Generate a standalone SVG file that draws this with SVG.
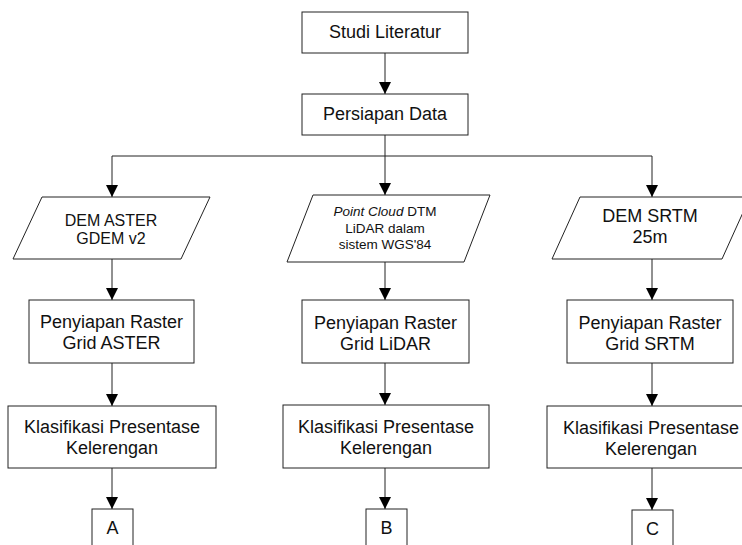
<svg xmlns="http://www.w3.org/2000/svg" width="742" height="545" viewBox="0 0 742 545">
<style>
.box{fill:#fff;stroke:#222;stroke-width:1}
.t{font-family:"Liberation Sans",Arial,Helvetica,sans-serif;font-size:18px;fill:#111;text-anchor:middle}
.s{font-size:16px}
.xs{font-size:13.5px}
.c{fill:none;stroke:#222;stroke-width:1}
</style>
<defs>
<marker id="ah" markerUnits="userSpaceOnUse" markerWidth="12" markerHeight="12" refX="12" refY="6" orient="auto">
<path d="M0,0 L12,6 L0,12 z" fill="#000"/>
</marker>
</defs>
<rect width="742" height="545" fill="#fff"/>
<g id="connectors">
<path class="c" d="M385,53 V94" marker-end="url(#ah)"/>
<path class="c" d="M385,135 V195" marker-end="url(#ah)"/>
<path class="c" d="M385,156 H112 V197" marker-end="url(#ah)"/>
<path class="c" d="M385,156 H652 V197" marker-end="url(#ah)"/>
<path class="c" d="M112,259 V300" marker-end="url(#ah)"/>
<path class="c" d="M112,363 V406" marker-end="url(#ah)"/>
<path class="c" d="M112,468 V509" marker-end="url(#ah)"/>
<path class="c" d="M385,262 V300" marker-end="url(#ah)"/>
<path class="c" d="M385,363 V405" marker-end="url(#ah)"/>
<path class="c" d="M385,468 V509" marker-end="url(#ah)"/>
<path class="c" d="M652,259 V300" marker-end="url(#ah)"/>
<path class="c" d="M652,363 V406" marker-end="url(#ah)"/>
<path class="c" d="M652,468 V510" marker-end="url(#ah)"/>
</g>
<g id="studi">
<rect class="box" x="302" y="12" width="166" height="41"/>
<text class="t" x="385" y="38">Studi Literatur</text>
</g>
<g id="persiapan">
<rect class="box" x="302" y="94" width="166" height="41"/>
<text class="t" x="385" y="120">Persiapan Data</text>
</g>
<g id="dem-aster">
<polygon class="box" points="42,197 210,197 181,259 13,259"/>
<text class="t s" x="111" y="226">DEM ASTER</text>
<text class="t s" x="111" y="244">GDEM v2</text>
</g>
<g id="point-cloud">
<polygon class="box" points="313,195 490,195 464,262 287,262"/>
<text class="t xs" x="385" y="216"><tspan font-style="italic">Point Cloud</tspan> DTM</text>
<text class="t xs" x="385" y="233">LiDAR dalam</text>
<text class="t xs" x="385" y="249">sistem WGS'84</text>
</g>
<g id="dem-srtm">
<polygon class="box" points="580,197 750,197 722,259 552,259"/>
<text class="t" x="650" y="222">DEM SRTM</text>
<text class="t" x="650" y="243">25m</text>
</g>
<g id="raster-aster">
<rect class="box" x="29" y="300" width="165" height="63"/>
<text class="t" x="111.5" y="328">Penyiapan Raster</text>
<text class="t" x="111.5" y="349">Grid ASTER</text>
</g>
<g id="raster-lidar">
<rect class="box" x="302" y="300" width="167" height="63"/>
<text class="t" x="385.5" y="329">Penyiapan Raster</text>
<text class="t" x="385.5" y="350">Grid LiDAR</text>
</g>
<g id="raster-srtm">
<rect class="box" x="567" y="300" width="166" height="63"/>
<text class="t" x="650" y="329">Penyiapan Raster</text>
<text class="t" x="650" y="350">Grid SRTM</text>
</g>
<g id="klas-aster">
<rect class="box" x="8" y="406" width="208" height="62"/>
<text class="t" x="112" y="433">Klasifikasi Presentase</text>
<text class="t" x="112" y="454">Kelerengan</text>
</g>
<g id="klas-lidar">
<rect class="box" x="283" y="405" width="206" height="63"/>
<text class="t" x="386" y="433">Klasifikasi Presentase</text>
<text class="t" x="386" y="454">Kelerengan</text>
</g>
<g id="klas-srtm">
<rect class="box" x="547" y="406" width="208" height="62"/>
<text class="t" x="651" y="434">Klasifikasi Presentase</text>
<text class="t" x="651" y="455">Kelerengan</text>
</g>
<g id="a">
<rect class="box" x="92" y="509" width="41" height="50"/>
<text class="t" x="112.5" y="534">A</text>
</g>
<g id="b">
<rect class="box" x="366" y="509" width="41" height="50"/>
<text class="t" x="386.5" y="534">B</text>
</g>
<g id="c">
<rect class="box" x="632" y="510" width="41" height="50"/>
<text class="t" x="652.5" y="535">C</text>
</g>
</svg>
